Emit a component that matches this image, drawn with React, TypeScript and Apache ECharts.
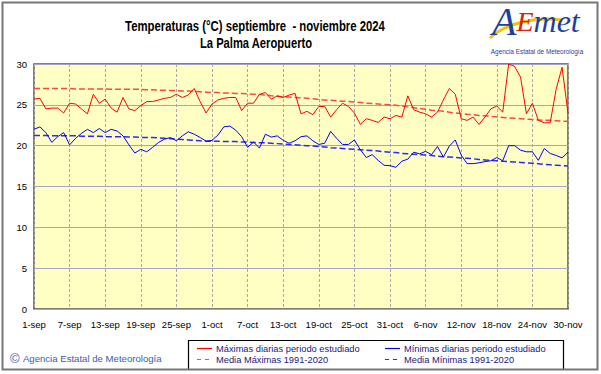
import React, { useEffect, useRef } from "react";
import * as echarts from "echarts";

// ---- data ----
const monthNames = ["sep", "oct", "nov"];
const monthDays = [30, 31, 30];
const categories: string[] = [];
monthNames.forEach((m, i) => {
  for (let d = 1; d <= monthDays[i]; d++) categories.push(`${d}-${m}`);
});

const yMin = 0;
const yMax = 30;
const yStep = 5;

const tmax = [
  25.7, 25.8, 24.5, 24.6, 24.6, 24.0, 25.2, 25.1, 24.5, 23.9,
  26.3, 25.2, 25.7, 24.6, 24.1, 25.9, 24.5, 24.3, 24.9, 25.4,
  25.4, 25.6, 25.8, 25.9, 26.3, 25.9, 26.2, 27.0, 25.4, 24.0,
  25.1, 25.6, 25.8, 25.9, 25.9, 24.3, 25.2, 25.2, 26.3, 26.5,
  25.7, 26.1, 25.9, 26.2, 26.4, 23.9, 24.2, 23.8, 24.8, 24.8,
  23.5, 24.4, 25.2, 24.8, 24.0, 22.6, 23.3, 23.1, 22.85, 23.5,
  23.3, 23.7, 23.5, 26.1, 24.4, 24.1, 23.9, 23.5, 24.1, 25.6,
  27.0, 26.3, 23.3, 23.1, 23.5, 22.6, 23.5, 24.5, 24.85, 24.1,
  30.0, 29.7, 28.4, 23.9, 25.2, 23.1, 22.8, 22.8, 26.9, 29.6,
  24.0,
];

const tmin = [
  22.0, 22.3, 21.6, 20.4, 21.1, 21.6, 20.1, 20.9, 21.5, 22.0,
  21.6, 22.1, 21.6, 22.0, 21.8, 21.2, 20.1, 19.1, 19.55, 19.25,
  19.8, 20.4, 20.8, 21.0, 20.6, 21.2, 21.7, 21.4, 21.0, 20.55,
  20.65, 21.3, 22.3, 22.4, 21.9, 21.1, 19.8, 20.45, 19.7, 21.4,
  21.05, 21.2, 20.65, 20.3, 20.6, 21.1, 21.2, 20.6, 20.15, 20.3,
  21.75, 20.9, 20.15, 20.15, 20.7, 19.5, 18.55, 18.9, 18.2, 17.6,
  17.55, 17.35, 18.1, 18.35, 19.2, 19.0, 19.3, 18.9, 19.9, 18.6,
  19.95, 20.7, 18.85, 17.8, 17.8, 17.9, 18.05, 18.15, 18.55, 18.15,
  20.0, 20.0, 19.45, 19.25, 19.25, 18.2, 19.65, 19.05, 18.8, 18.5,
  19.2,
];

const mediaMax = [
  27.0, 27.0, 27.0, 27.0, 27.0, 27.0, 27.0, 26.95, 26.95, 26.95,
  26.95, 26.95, 26.95, 26.9, 26.9, 26.9, 26.9, 26.9, 26.9, 26.85,
  26.85, 26.8, 26.8, 26.75, 26.75, 26.7, 26.7, 26.65, 26.6, 26.55,
  26.5, 26.5, 26.45, 26.45, 26.4, 26.4, 26.35, 26.3, 26.25, 26.2,
  26.1, 26.05, 26.0, 25.95, 25.9, 25.85, 25.8, 25.75, 25.65, 25.6,
  25.55, 25.5, 25.45, 25.4, 25.35, 25.3, 25.2, 25.15, 25.1, 25.05,
  25.0, 24.95, 24.85, 24.75, 24.65, 24.55, 24.45, 24.35, 24.3, 24.2,
  24.1, 24.0, 23.95, 23.85, 23.8, 23.7, 23.65, 23.6, 23.5, 23.45,
  23.4, 23.35, 23.3, 23.25, 23.2, 23.15, 23.1, 23.1, 23.05, 23.0,
  23.0,
];

const mediaMin = [
  21.25, 21.25, 21.25, 21.2, 21.2, 21.2, 21.2, 21.2, 21.15, 21.15,
  21.15, 21.15, 21.1, 21.1, 21.1, 21.1, 21.05, 21.05, 21.0, 21.0,
  21.0, 20.95, 20.9, 20.85, 20.8, 20.75, 20.7, 20.65, 20.6, 20.55,
  20.55, 20.55, 20.5, 20.5, 20.5, 20.45, 20.45, 20.4, 20.35, 20.35,
  20.3, 20.25, 20.2, 20.15, 20.1, 20.05, 20.0, 19.95, 19.9, 19.85,
  19.75, 19.7, 19.65, 19.6, 19.55, 19.5, 19.45, 19.4, 19.35, 19.25,
  19.2, 19.15, 19.05, 19.0, 18.95, 18.9, 18.85, 18.8, 18.7, 18.65,
  18.6, 18.55, 18.5, 18.45, 18.4, 18.3, 18.25, 18.2, 18.15, 18.1,
  18.05, 18.0, 17.95, 17.9, 17.85, 17.8, 17.7, 17.65, 17.6, 17.55,
  17.5,
];

const seriesNames = [
  "Máximas diarias periodo estudiado",
  "Mínimas diarias periodo estudiado",
  "Media Máximas 1991-2020",
  "Media Mínimas 1991-2020",
];
const seriesColors = ["#ff0000", "#0000ff", "#ff4646", "#2a2aff"];

const titleLine1 = "Temperaturas (°C) septiembre  - noviembre 2024";
const titleLine2 = "La Palma Aeropuerto";
const copyrightText = "Agencia Estatal de Meteorología";

const SANS = "'Liberation Sans', Arial, Helvetica, sans-serif";
const SERIF = "'Liberation Serif', 'Times New Roman', serif";

export default function App() {
  const ref = useRef<HTMLDivElement>(null);
  useEffect(() => {
    if (!ref.current) return;
    const chart = echarts.init(ref.current, undefined, { renderer: "svg" });

    const legendItems = [
      { name: seriesNames[0], color: seriesColors[0], dashed: false, x: 197, y: 348.5 },
      { name: seriesNames[2], color: seriesColors[2], dashed: true, x: 197, y: 359.5 },
      { name: seriesNames[1], color: seriesColors[1], dashed: false, x: 385, y: 348.5 },
      { name: seriesNames[3], color: seriesColors[3], dashed: true, x: 385, y: 359.5 },
    ];
    const legendGraphics: any[] = [];
    legendItems.forEach((it) => {
      legendGraphics.push({
        type: "line",
        silent: true,
        shape: { x1: it.x, y1: it.y, x2: it.x + 15, y2: it.y },
        style: { stroke: it.color, lineWidth: 1.2, lineDash: it.dashed ? [4, 4] : null },
      });
      legendGraphics.push({
        type: "text",
        x: it.x + 19,
        y: it.y,
        style: {
          text: it.name,
          font: `9.3px ${SANS}`,
          fill: "#202080",
          textVerticalAlign: "middle",
        },
      });
    });

    chart.setOption({
      animation: false,
      backgroundColor: "#ffffff",
      grid: {
        left: 34,
        top: 64,
        width: 534,
        height: 245,
        show: true,
        backgroundColor: "#ffffc4",
        borderColor: "#555555",
        borderWidth: 1.5,
        containLabel: false,
      },
      xAxis: {
        type: "category",
        data: categories,
        boundaryGap: false,
        axisLine: { show: false },
        axisTick: { show: false },
        axisLabel: {
          interval: 5,
          margin: 10,
          fontFamily: SANS,
          fontSize: 9.5,
          color: "#000",
        },
        splitLine: {
          show: true,
          interval: 5,
          lineStyle: { color: "#a8a8a8", width: 1, type: [3, 2] },
        },
      },
      yAxis: {
        type: "value",
        min: yMin,
        max: yMax,
        interval: yStep,
        axisLine: { show: false },
        axisTick: { show: false },
        axisLabel: { margin: 7, fontFamily: SANS, fontSize: 9.5, color: "#000" },
        splitLine: { show: true, lineStyle: { color: "#a4a4c8", width: 1 } },
      },
      series: [
        {
          name: seriesNames[2],
          type: "line",
          data: mediaMax,
          symbol: "none",
          z: 2,
          lineStyle: { color: seriesColors[2], width: 1.5, type: [6, 3] },
          itemStyle: { color: seriesColors[2] },
        },
        {
          name: seriesNames[3],
          type: "line",
          data: mediaMin,
          symbol: "none",
          z: 2,
          lineStyle: { color: seriesColors[3], width: 1.5, type: [6, 3] },
          itemStyle: { color: seriesColors[3] },
        },
        {
          name: seriesNames[0],
          type: "line",
          data: tmax,
          symbol: "none",
          z: 3,
          lineStyle: { color: seriesColors[0], width: 1 },
          itemStyle: { color: seriesColors[0] },
        },
        {
          name: seriesNames[1],
          type: "line",
          data: tmin,
          symbol: "none",
          z: 3,
          lineStyle: { color: seriesColors[1], width: 1 },
          itemStyle: { color: seriesColors[1] },
        },
      ],
      graphic: [
        {
          type: "rect",
          silent: true,
          shape: { x: 2.5, y: 2.5, width: 595, height: 367 },
          style: { fill: "none", stroke: "#777777", lineWidth: 2 },
          z: 10,
        },
        {
          type: "text",
          x: 255,
          y: 26,
          scaleX: 0.81,
          style: {
            text: titleLine1,
            font: `bold 14px ${SANS}`,
            fill: "#000",
            textAlign: "center",
            textVerticalAlign: "middle",
          },
        },
        {
          type: "text",
          x: 256,
          y: 44,
          scaleX: 0.8,
          style: {
            text: titleLine2,
            font: `bold 14px ${SANS}`,
            fill: "#000",
            textAlign: "center",
            textVerticalAlign: "middle",
          },
        },
        {
          type: "rect",
          silent: true,
          shape: { x: 188.5, y: 340.5, width: 375, height: 29 },
          style: { fill: "#ffffff", stroke: "#000000", lineWidth: 1.2 },
          z: -1,
        },
        ...legendGraphics,
        {
          type: "text",
          x: 10,
          y: 358,
          style: {
            text: "{c|©} {t|" + copyrightText + "}",
            textVerticalAlign: "middle",
            rich: {
              c: { fontFamily: SANS, fontSize: 13, fill: "#3a5cb0" },
              t: { fontFamily: SANS, fontSize: 9.6, fill: "#3a5cb0" },
            },
          },
        },
        {
          type: "bezierCurve",
          silent: true,
          shape: { x1: 490, y1: 38, x2: 562, y2: 20, cpx1: 505, cpy1: 24, cpx2: 535, cpy2: 16 },
          style: { stroke: "#f4c300", lineWidth: 3, fill: "none" },
        },
        {
          type: "text",
          x: 492,
          y: 41,
          style: {
            text: "{a|A}{e|E}{m|met}",
            textVerticalAlign: "bottom",
            rich: {
              a: { fontFamily: SERIF, fontStyle: "italic", fontSize: 40, fill: "#1d3fa0" },
              e: { fontFamily: SERIF, fontStyle: "italic", fontSize: 28, fill: "#e02010" },
              m: { fontFamily: SERIF, fontStyle: "italic", fontSize: 32, fill: "#1d3fa0" },
            },
          },
        },
        {
          type: "text",
          x: 537,
          y: 51,
          style: {
            text: "Agencia Estatal de Meteorología",
            font: `6.4px ${SANS}`,
            fill: "#1d3fa0",
            textAlign: "center",
            textVerticalAlign: "middle",
          },
        },
      ],
    });
    return () => chart.dispose();
  }, []);
  return (
    <div
      ref={ref}
      style={{ position: "absolute", left: 0, top: 0, width: 601, height: 374, background: "#fff" }}
    />
  );
}
